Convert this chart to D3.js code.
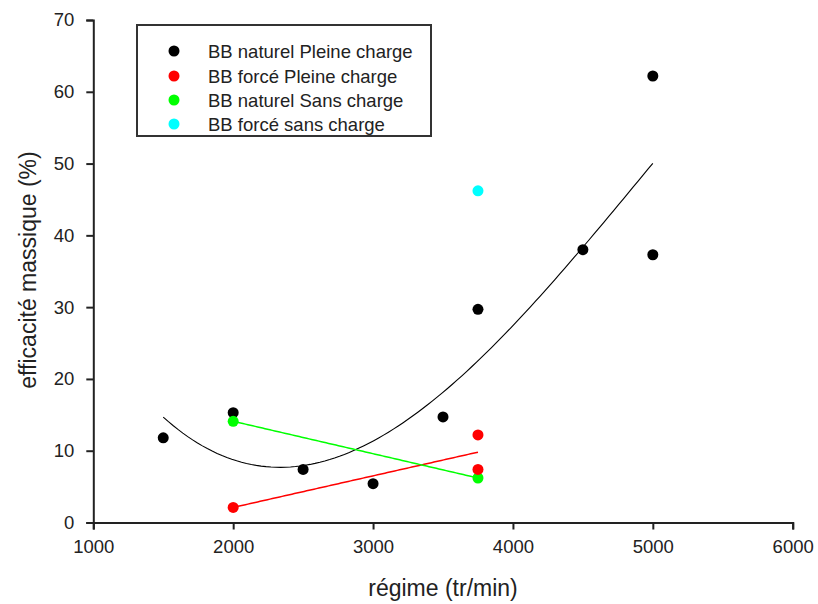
<!DOCTYPE html>
<html><head><meta charset="utf-8">
<script src="https://cdn.jsdelivr.net/npm/d3@7/dist/d3.min.js"></script>
<style>
body{margin:0;background:#fff;}
text{font-family:"Liberation Sans",Arial,sans-serif;}
</style></head>
<body><svg id="c" width="818" height="604"></svg>
<script>
// Data
const blackX = [1500, 2000, 2500, 3000, 3500, 3750, 4500, 5000, 5000];
const blackY = [11.8, 15.3, 7.4, 5.4, 14.7, 29.7, 38.0, 62.2, 37.3];
const redX = [2000, 3750, 3750];
const redY = [2.1, 12.2, 7.4];
const greenX = [2000, 3750];
const greenY = [14.1, 6.2];
const cyanX = [3750];
const cyanY = [46.2];
const seriesNames = ["BB naturel Pleine charge", "BB forcé Pleine charge", "BB naturel Sans charge", "BB forcé sans charge"];
const seriesColors = ["#000000", "#ff0000", "#00ff00", "#00ffff"];
const xTicks = [1000, 2000, 3000, 4000, 5000, 6000];
const yTicks = [0, 10, 20, 30, 40, 50, 60, 70];

const svg = d3.select("#c");
const x = d3.scaleLinear().domain([1000, 6000]).range([93.3, 792.7]);
const y = d3.scaleLinear().domain([0, 70]).range([522.5, 20]);

// polynomial least squares
function polyfit(xs, ys, deg) {
  const n = deg + 1;
  const A = Array.from({length: n}, () => new Array(n + 1).fill(0));
  const sx = v => v / 1000;
  for (let i = 0; i < xs.length; i++) {
    const xv = sx(xs[i]);
    for (let r = 0; r < n; r++) {
      for (let c = 0; c < n; c++) A[r][c] += Math.pow(xv, r + c);
      A[r][n] += ys[i] * Math.pow(xv, r);
    }
  }
  for (let i = 0; i < n; i++) {
    let p = i;
    for (let k = i + 1; k < n; k++) if (Math.abs(A[k][i]) > Math.abs(A[p][i])) p = k;
    [A[i], A[p]] = [A[p], A[i]];
    for (let k = i + 1; k < n; k++) {
      const f = A[k][i] / A[i][i];
      for (let j = i; j <= n; j++) A[k][j] -= f * A[i][j];
    }
  }
  const coef = new Array(n).fill(0);
  for (let i = n - 1; i >= 0; i--) {
    let s = A[i][n];
    for (let j = i + 1; j < n; j++) s -= A[i][j] * coef[j];
    coef[i] = s / A[i][i];
  }
  return v => coef.reduce((acc, c, k) => acc + c * Math.pow(v / 1000, k), 0);
}

const fBlack = polyfit(blackX, blackY, 3);
const fRed = polyfit(redX, redY, 1);
const fGreen = polyfit(greenX, greenY, 1);

const line = d3.line().x(d => x(d[0])).y(d => y(d[1]));
function fitPts(f, xs) {
  const lo = d3.min(xs), hi = d3.max(xs);
  return d3.range(0, 101).map(i => { const v = lo + (hi - lo) * i / 100; return [v, f(v)]; });
}

svg.append("path").attr("d", line(fitPts(fBlack, blackX))).attr("fill", "none").attr("stroke", "#000").attr("stroke-width", 1.1);
svg.append("path").attr("d", line(fitPts(fRed, redX))).attr("fill", "none").attr("stroke", "#ff0000").attr("stroke-width", 1.5);
svg.append("path").attr("d", line(fitPts(fGreen, greenX))).attr("fill", "none").attr("stroke", "#00ff00").attr("stroke-width", 1.5);

// axes
const xAxis = svg.append("g").attr("transform", "translate(0,522.5)")
  .call(d3.axisBottom(x).tickValues(xTicks).tickSize(7).tickPadding(10).tickFormat(d3.format("d")));
const yAxis = svg.append("g").attr("transform", "translate(93.3,0)")
  .call(d3.axisLeft(y).tickValues(yTicks).tickSize(7).tickPadding(12).tickFormat(d3.format("d")));
[xAxis, yAxis].forEach(g => {
  g.select(".domain").attr("stroke", "#222").attr("stroke-width", 2);
  g.selectAll(".tick line").attr("stroke", "#222").attr("stroke-width", 2);
  g.selectAll(".tick text").attr("font-size", 18.5).attr("fill", "#222").attr("font-family", "Liberation Sans, Arial, sans-serif");
});

// points
const groups = [[blackX, blackY], [redX, redY], [greenX, greenY], [cyanX, cyanY]];
const drawOrder = [0, 2, 1, 3];
drawOrder.forEach(si => {
  const [xs, ys] = groups[si];
  svg.append("g").selectAll("circle").data(xs.map((v, i) => [v, ys[i]])).join("circle")
    .attr("cx", d => x(d[0])).attr("cy", d => y(d[1])).attr("r", 5.5).attr("fill", seriesColors[si]);
});

// axis titles
svg.append("text").attr("x", 443).attr("y", 596).attr("text-anchor", "middle")
  .attr("font-size", 23).attr("fill", "#222").text("régime (tr/min)");
svg.append("text").attr("transform", "translate(36,270) rotate(-90)").attr("text-anchor", "middle")
  .attr("font-size", 23).attr("fill", "#222").text("efficacité massique (%)");

// legend
const lg = svg.append("g");
lg.append("rect").attr("x", 137).attr("y", 25).attr("width", 294).attr("height", 111)
  .attr("fill", "none").attr("stroke", "#333").attr("stroke-width", 2);
const rows = [51, 76, 100, 124];
seriesNames.forEach((name, i) => {
  lg.append("circle").attr("cx", 174).attr("cy", rows[i]).attr("r", 5.5).attr("fill", seriesColors[i]);
  lg.append("text").attr("x", 208).attr("y", rows[i] + 6.5).attr("font-size", 18.5).attr("fill", "#222").text(name);
});
</script></body></html>
